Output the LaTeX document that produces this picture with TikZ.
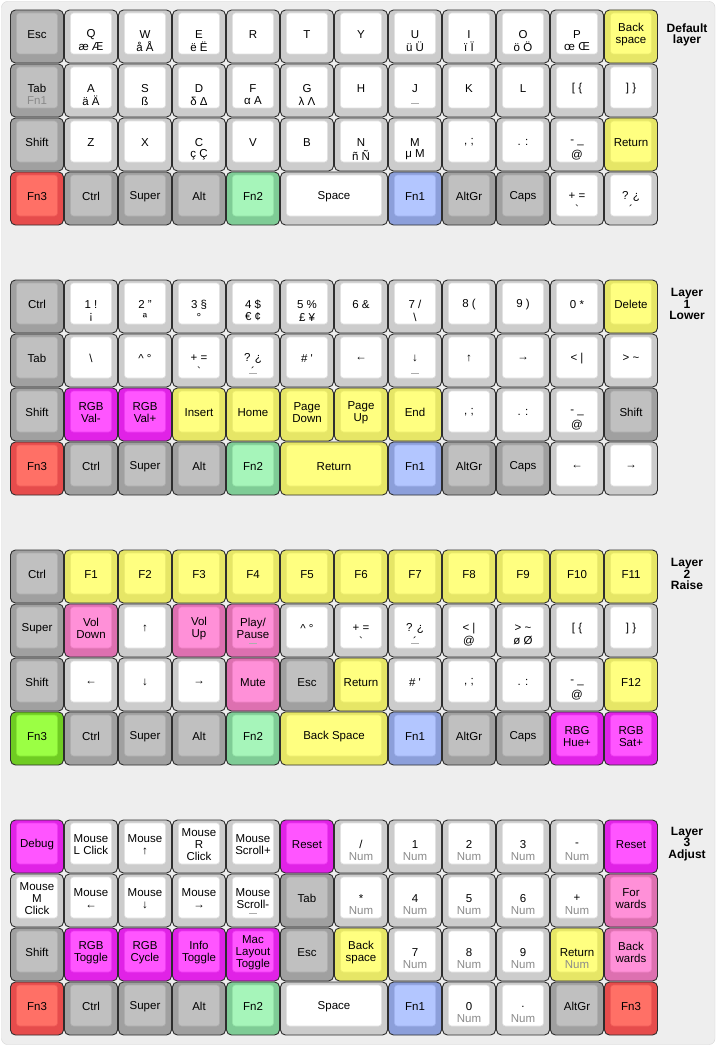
\documentclass[tikz,border=0pt]{standalone}
\usepackage{fontspec}
\setmainfont{Liberation Sans}

% key colours: O = side, I = top, B = top edge
\definecolor{modO}{HTML}{A0A0A0}\definecolor{modI}{HTML}{C0C0C0}\definecolor{modB}{HTML}{AEAEAE}
\definecolor{whiteO}{HTML}{CCCCCC}\definecolor{whiteI}{HTML}{FFFFFF}\definecolor{whiteB}{HTML}{E2E2E2}
\definecolor{yellowO}{HTML}{E6E666}\definecolor{yellowI}{HTML}{FFFF80}\definecolor{yellowB}{HTML}{EDED70}
\definecolor{redO}{HTML}{E64C4C}\definecolor{redI}{HTML}{FF7066}\definecolor{redB}{HTML}{F05C58}
\definecolor{greenO}{HTML}{7FCC96}\definecolor{greenI}{HTML}{A6F5BA}\definecolor{greenB}{HTML}{94E2A8}
\definecolor{blueO}{HTML}{8C9FDA}\definecolor{blueI}{HTML}{B3C6FF}\definecolor{blueB}{HTML}{A0B2EE}
\definecolor{magO}{HTML}{E022E6}\definecolor{magI}{HTML}{FF55FF}\definecolor{magB}{HTML}{EE3BF2}
\definecolor{pinkO}{HTML}{DD70B0}\definecolor{pinkI}{HTML}{FF90D8}\definecolor{pinkB}{HTML}{EE80C4}
\definecolor{limeO}{HTML}{6FCC22}\definecolor{limeI}{HTML}{9BFF44}\definecolor{limeB}{HTML}{86E634}
\definecolor{keyedge}{HTML}{2E2E2E}
\definecolor{subgrey}{HTML}{8A8A8A}
\definecolor{panelfill}{HTML}{EEEEEE}
\definecolor{paneledge}{HTML}{D6D6D6}

\tikzset{
  keyouter/.style={draw=keyedge,line width=0.9pt,rounded corners=5pt},
  keyinner/.style={line width=0.6pt,rounded corners=3pt},
  keylabel/.style={font=\fontsize{11.5}{12}\selectfont,align=center,inner sep=0pt,text=black},
  keysub/.style={font=\fontsize{11.5}{12}\selectfont,inner sep=0pt,text=black},
  layertitle/.style={font=\bfseries\fontsize{12}{11.5}\selectfont,align=center,inner sep=0pt},
  homenub/.style={draw=subgrey!70,line width=0.8pt},
}

\newcommand{\dimtxt}[1]{\textcolor{subgrey}{#1}}
% [sub legend]{name}{column}{row}{width in keys}{colour}{legend}
\newcommand{\keycap}[7][]{%
  \pgfmathsetmacro{\kx}{10.5+54*#3}%
  \pgfmathsetmacro{\ky}{10+54*#4}%
  \pgfmathsetmacro{\kw}{54*#5-1}%
  \draw[keyouter,fill=#6O] (\kx,\ky) rectangle ++(\kw,53);
  \draw[keyinner,fill=#6I,draw=#6B] (\kx+6,\ky+3) rectangle ++(\kw-12,41);
  \node[keylabel] (#2) at (\kx+\kw/2,\ky+24.5) {#7};
  \if\relax\detokenize{#1}\relax\else
    \node[keysub] (#2-sub) at (\kx+\kw/2,\ky+37) {#1};
  \fi
}
\newcommand{\nub}[2]{\draw[homenub] ({10.5+54*#1+22.5},{10+54*#2+39.5}) -- ++(8,0);}

\begin{document}
\begin{tikzpicture}[x=1pt,y=-1pt]
\useasboundingbox (0,0) rectangle (722,1046);
\fill[white] (0,0) rectangle (722,1046);
\draw[fill=panelfill,draw=paneledge,rounded corners=6pt] (1.5,1.5) rectangle (715,1044.5);

% default layer
\keycap{d-esc}{0}{0}{1}{mod}{Esc}
\keycap[æ Æ]{d-q}{1}{0}{1}{white}{Q}
\keycap[å Å]{d-w}{2}{0}{1}{white}{W}
\keycap[ë Ë]{d-e}{3}{0}{1}{white}{E}
\keycap{d-r}{4}{0}{1}{white}{R}
\keycap{d-t}{5}{0}{1}{white}{T}
\keycap{d-y}{6}{0}{1}{white}{Y}
\keycap[ü Ü]{d-u}{7}{0}{1}{white}{U}
\keycap[ï Ï]{d-i}{8}{0}{1}{white}{I}
\keycap[ö Ö]{d-o}{9}{0}{1}{white}{O}
\keycap[œ Œ]{d-p}{10}{0}{1}{white}{P}
\keycap{d-bksp}{11}{0}{1}{yellow}{Back\\space}
\keycap[\dimtxt{Fn1}]{d-tab}{0}{1}{1}{mod}{Tab}
\keycap[ä Ä]{d-a}{1}{1}{1}{white}{A}
\keycap[ß]{d-s}{2}{1}{1}{white}{S}
\keycap[δ Δ]{d-d}{3}{1}{1}{white}{D}
\keycap[α Α]{d-f}{4}{1}{1}{white}{F}
\keycap[λ Λ]{d-g}{5}{1}{1}{white}{G}
\keycap{d-h}{6}{1}{1}{white}{H}
\keycap{d-j}{7}{1}{1}{white}{J}
\keycap{d-k}{8}{1}{1}{white}{K}
\keycap{d-l}{9}{1}{1}{white}{L}
\keycap{d-lbrack}{10}{1}{1}{white}{[ \{}
\keycap{d-rbrack}{11}{1}{1}{white}{] \}}
\keycap{d-shift}{0}{2}{1}{mod}{Shift}
\keycap{d-z}{1}{2}{1}{white}{Z}
\keycap{d-x}{2}{2}{1}{white}{X}
\keycap[ç Ç]{d-c}{3}{2}{1}{white}{C}
\keycap{d-v}{4}{2}{1}{white}{V}
\keycap{d-b}{5}{2}{1}{white}{B}
\keycap[ñ Ñ]{d-n}{6}{2}{1}{white}{N}
\keycap[μ Μ]{d-m}{7}{2}{1}{white}{M}
\keycap{d-comma}{8}{2}{1}{white}{, ;}
\keycap{d-dot}{9}{2}{1}{white}{. :}
\keycap[@]{d-minus}{10}{2}{1}{white}{- \_}
\keycap{d-ret}{11}{2}{1}{yellow}{Return}
\keycap{d-fn3}{0}{3}{1}{red}{Fn3}
\keycap{d-ctrl}{1}{3}{1}{mod}{Ctrl}
\keycap{d-super}{2}{3}{1}{mod}{Super}
\keycap{d-alt}{3}{3}{1}{mod}{Alt}
\keycap{d-fn2}{4}{3}{1}{green}{Fn2}
\keycap{d-space}{5}{3}{2}{white}{Space}
\keycap{d-fn1}{7}{3}{1}{blue}{Fn1}
\keycap{d-altgr}{8}{3}{1}{mod}{AltGr}
\keycap{d-caps}{9}{3}{1}{mod}{Caps}
\keycap[\textasciigrave]{d-plus}{10}{3}{1}{white}{+ =}
\keycap[\textasciiacute]{d-quest}{11}{3}{1}{white}{? ¿}
\nub{7}{1}
\node[layertitle] (title-default) at (687,35) {Default\\layer};

% layer 1, lower
\keycap{lo-ctrl}{0}{5}{1}{mod}{Ctrl}
\keycap[¡]{lo-1}{1}{5}{1}{white}{1 !}
\keycap[ª]{lo-2}{2}{5}{1}{white}{2 "}
\keycap[°]{lo-3}{3}{5}{1}{white}{3 §}
\keycap[€ ¢]{lo-4}{4}{5}{1}{white}{4 \$}
\keycap[£ ¥]{lo-5}{5}{5}{1}{white}{5 \%}
\keycap{lo-6}{6}{5}{1}{white}{6 \&}
\keycap[\textbackslash]{lo-7}{7}{5}{1}{white}{7 /}
\keycap{lo-8}{8}{5}{1}{white}{8 (}
\keycap{lo-9}{9}{5}{1}{white}{9 )}
\keycap{lo-0}{10}{5}{1}{white}{0 *}
\keycap{lo-del}{11}{5}{1}{yellow}{Delete}
\keycap{lo-tab}{0}{6}{1}{mod}{Tab}
\keycap{lo-bslash}{1}{6}{1}{white}{\textbackslash}
\keycap{lo-caret}{2}{6}{1}{white}{\textasciicircum\ °}
\keycap[\textasciigrave]{lo-plus}{3}{6}{1}{white}{+ =}
\keycap[\textasciiacute]{lo-quest}{4}{6}{1}{white}{? ¿}
\keycap{lo-hash}{5}{6}{1}{white}{\# \textquotesingle}
\keycap{lo-left}{6}{6}{1}{white}{←}
\keycap{lo-down}{7}{6}{1}{white}{↓}
\keycap{lo-up}{8}{6}{1}{white}{↑}
\keycap{lo-right}{9}{6}{1}{white}{→}
\keycap{lo-less}{10}{6}{1}{white}{< |}
\keycap{lo-greater}{11}{6}{1}{white}{> \textasciitilde}
\keycap{lo-shift}{0}{7}{1}{mod}{Shift}
\keycap{lo-valdn}{1}{7}{1}{mag}{RGB\\Val-}
\keycap{lo-valup}{2}{7}{1}{mag}{RGB\\Val+}
\keycap{lo-ins}{3}{7}{1}{yellow}{Insert}
\keycap{lo-home}{4}{7}{1}{yellow}{Home}
\keycap{lo-pgdn}{5}{7}{1}{yellow}{Page\\Down}
\keycap{lo-pgup}{6}{7}{1}{yellow}{Page\\Up}
\keycap{lo-end}{7}{7}{1}{yellow}{End}
\keycap{lo-comma}{8}{7}{1}{white}{, ;}
\keycap{lo-dot}{9}{7}{1}{white}{. :}
\keycap[@]{lo-minus}{10}{7}{1}{white}{- \_}
\keycap{lo-rshift}{11}{7}{1}{mod}{Shift}
\keycap{lo-fn3}{0}{8}{1}{red}{Fn3}
\keycap{lo-ctrl2}{1}{8}{1}{mod}{Ctrl}
\keycap{lo-super}{2}{8}{1}{mod}{Super}
\keycap{lo-alt}{3}{8}{1}{mod}{Alt}
\keycap{lo-fn2}{4}{8}{1}{green}{Fn2}
\keycap{lo-ret}{5}{8}{2}{yellow}{Return}
\keycap{lo-fn1}{7}{8}{1}{blue}{Fn1}
\keycap{lo-altgr}{8}{8}{1}{mod}{AltGr}
\keycap{lo-caps}{9}{8}{1}{mod}{Caps}
\keycap{lo-left2}{10}{8}{1}{white}{←}
\keycap{lo-right2}{11}{8}{1}{white}{→}
\nub{4}{6}
\nub{7}{6}
\node[layertitle] (title-lower) at (687,304) {Layer\\1\\Lower};

% layer 2, raise
\keycap{ra-ctrl}{0}{10}{1}{mod}{Ctrl}
\keycap{ra-f1}{1}{10}{1}{yellow}{F1}
\keycap{ra-f2}{2}{10}{1}{yellow}{F2}
\keycap{ra-f3}{3}{10}{1}{yellow}{F3}
\keycap{ra-f4}{4}{10}{1}{yellow}{F4}
\keycap{ra-f5}{5}{10}{1}{yellow}{F5}
\keycap{ra-f6}{6}{10}{1}{yellow}{F6}
\keycap{ra-f7}{7}{10}{1}{yellow}{F7}
\keycap{ra-f8}{8}{10}{1}{yellow}{F8}
\keycap{ra-f9}{9}{10}{1}{yellow}{F9}
\keycap{ra-f10}{10}{10}{1}{yellow}{F10}
\keycap{ra-f11}{11}{10}{1}{yellow}{F11}
\keycap{ra-super}{0}{11}{1}{mod}{Super}
\keycap{ra-voldn}{1}{11}{1}{pink}{Vol\\Down}
\keycap{ra-up}{2}{11}{1}{white}{↑}
\keycap{ra-volup}{3}{11}{1}{pink}{Vol\\Up}
\keycap{ra-play}{4}{11}{1}{pink}{Play/\\Pause}
\keycap{ra-caret}{5}{11}{1}{white}{\textasciicircum\ °}
\keycap[\textasciigrave]{ra-plus}{6}{11}{1}{white}{+ =}
\keycap[\textasciiacute]{ra-quest}{7}{11}{1}{white}{? ¿}
\keycap[@]{ra-less}{8}{11}{1}{white}{< |}
\keycap[ø Ø]{ra-greater}{9}{11}{1}{white}{> \textasciitilde}
\keycap{ra-lbrack}{10}{11}{1}{white}{[ \{}
\keycap{ra-rbrack}{11}{11}{1}{white}{] \}}
\keycap{ra-shift}{0}{12}{1}{mod}{Shift}
\keycap{ra-left}{1}{12}{1}{white}{←}
\keycap{ra-down}{2}{12}{1}{white}{↓}
\keycap{ra-right}{3}{12}{1}{white}{→}
\keycap{ra-mute}{4}{12}{1}{pink}{Mute}
\keycap{ra-esc}{5}{12}{1}{mod}{Esc}
\keycap{ra-ret}{6}{12}{1}{yellow}{Return}
\keycap{ra-hash}{7}{12}{1}{white}{\# \textquotesingle}
\keycap{ra-comma}{8}{12}{1}{white}{, ;}
\keycap{ra-dot}{9}{12}{1}{white}{. :}
\keycap[@]{ra-minus}{10}{12}{1}{white}{- \_}
\keycap{ra-f12}{11}{12}{1}{yellow}{F12}
\keycap{ra-fn3}{0}{13}{1}{lime}{Fn3}
\keycap{ra-ctrl2}{1}{13}{1}{mod}{Ctrl}
\keycap{ra-super2}{2}{13}{1}{mod}{Super}
\keycap{ra-alt}{3}{13}{1}{mod}{Alt}
\keycap{ra-fn2}{4}{13}{1}{green}{Fn2}
\keycap{ra-bksp}{5}{13}{2}{yellow}{Back Space}
\keycap{ra-fn1}{7}{13}{1}{blue}{Fn1}
\keycap{ra-altgr}{8}{13}{1}{mod}{AltGr}
\keycap{ra-caps}{9}{13}{1}{mod}{Caps}
\keycap{ra-hue}{10}{13}{1}{mag}{RBG\\Hue+}
\keycap{ra-sat}{11}{13}{1}{mag}{RGB\\Sat+}
\nub{4}{11}
\nub{7}{11}
\node[layertitle] (title-raise) at (687,574) {Layer\\2\\Raise};

% layer 3, adjust
\keycap{ad-debug}{0}{15}{1}{mag}{Debug}
\keycap{ad-lclick}{1}{15}{1}{white}{Mouse\\L Click}
\keycap{ad-mup}{2}{15}{1}{white}{Mouse\\↑}
\keycap{ad-rclick}{3}{15}{1}{white}{Mouse\\R\\Click}
\keycap{ad-scrup}{4}{15}{1}{white}{Mouse\\Scroll+}
\keycap{ad-reset}{5}{15}{1}{mag}{Reset}
\keycap[\dimtxt{Num}]{ad-slash}{6}{15}{1}{white}{/}
\keycap[\dimtxt{Num}]{ad-1}{7}{15}{1}{white}{1}
\keycap[\dimtxt{Num}]{ad-2}{8}{15}{1}{white}{2}
\keycap[\dimtxt{Num}]{ad-3}{9}{15}{1}{white}{3}
\keycap[\dimtxt{Num}]{ad-minus}{10}{15}{1}{white}{-}
\keycap{ad-reset2}{11}{15}{1}{mag}{Reset}
\keycap{ad-mclick}{0}{16}{1}{white}{Mouse\\M\\Click}
\keycap{ad-mleft}{1}{16}{1}{white}{Mouse\\←}
\keycap{ad-mdown}{2}{16}{1}{white}{Mouse\\↓}
\keycap{ad-mright}{3}{16}{1}{white}{Mouse\\→}
\keycap{ad-scrdn}{4}{16}{1}{white}{Mouse\\Scroll-}
\keycap{ad-tab}{5}{16}{1}{mod}{Tab}
\keycap[\dimtxt{Num}]{ad-star}{6}{16}{1}{white}{*}
\keycap[\dimtxt{Num}]{ad-4}{7}{16}{1}{white}{4}
\keycap[\dimtxt{Num}]{ad-5}{8}{16}{1}{white}{5}
\keycap[\dimtxt{Num}]{ad-6}{9}{16}{1}{white}{6}
\keycap[\dimtxt{Num}]{ad-plus}{10}{16}{1}{white}{+}
\keycap{ad-fwd}{11}{16}{1}{pink}{For\\wards}
\keycap{ad-shift}{0}{17}{1}{mod}{Shift}
\keycap{ad-rgbtog}{1}{17}{1}{mag}{RGB\\Toggle}
\keycap{ad-rgbcyc}{2}{17}{1}{mag}{RGB\\Cycle}
\keycap{ad-info}{3}{17}{1}{mag}{Info\\Toggle}
\keycap{ad-mac}{4}{17}{1}{mag}{Mac\\Layout\\Toggle}
\keycap{ad-esc}{5}{17}{1}{mod}{Esc}
\keycap{ad-bksp}{6}{17}{1}{yellow}{Back\\space}
\keycap[\dimtxt{Num}]{ad-7}{7}{17}{1}{white}{7}
\keycap[\dimtxt{Num}]{ad-8}{8}{17}{1}{white}{8}
\keycap[\dimtxt{Num}]{ad-9}{9}{17}{1}{white}{9}
\keycap[\dimtxt{Num}]{ad-ret}{10}{17}{1}{yellow}{Return}
\keycap{ad-back}{11}{17}{1}{pink}{Back\\wards}
\keycap{ad-fn3}{0}{18}{1}{red}{Fn3}
\keycap{ad-ctrl}{1}{18}{1}{mod}{Ctrl}
\keycap{ad-super}{2}{18}{1}{mod}{Super}
\keycap{ad-alt}{3}{18}{1}{mod}{Alt}
\keycap{ad-fn2}{4}{18}{1}{green}{Fn2}
\keycap{ad-space}{5}{18}{2}{white}{Space}
\keycap{ad-fn1}{7}{18}{1}{blue}{Fn1}
\keycap[\dimtxt{Num}]{ad-0}{8}{18}{1}{white}{0}
\keycap[\dimtxt{Num}]{ad-dot}{9}{18}{1}{white}{.}
\keycap{ad-altgr}{10}{18}{1}{mod}{AltGr}
\keycap{ad-fn3r}{11}{18}{1}{red}{Fn3}
\nub{4}{16}
\node[layertitle] (title-adjust) at (687,844) {Layer\\3\\Adjust};
\end{tikzpicture}
\end{document}
